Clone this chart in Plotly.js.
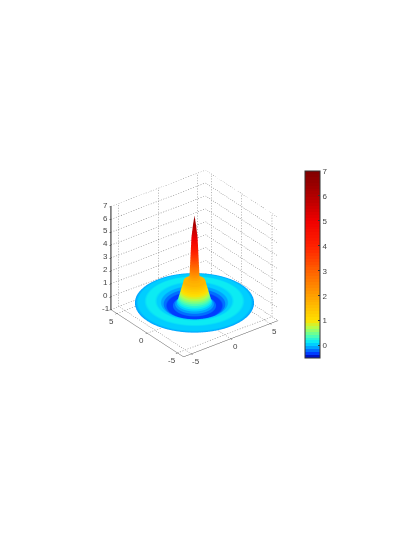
<!DOCTYPE html>
<html>
<head>
<meta charset="utf-8">
<script src="https://cdn.plot.ly/plotly-3.0.1.min.js"></script>
<style>html,body{margin:0;padding:0;background:#fff}#chart{width:415px;height:537px}</style>
</head>
<body>
<div id="chart"></div>
<script>
// radial profile (surface of revolution)
const radii   = [0, 0.15, 0.31, 0.44, 0.51, 0.6, 0.85, 1.1, 1.2, 1.3, 1.4, 1.5, 1.6, 1.7, 1.8, 1.95, 2.2, 2.5, 2.9, 3.3, 3.8, 4.4, 5.0, 5.5, 6.0];
const heights = [6.7, 6.0, 5.0, 3.0, 1.95, 1.75, 1.7, 1.65, 1.35, 1.1, 0.85, 0.6, 0.35, 0.1, -0.05, -0.15, -0.28, -0.33, -0.25, -0.05, 0.08, 0.14, 0.08, 0.0, -0.05];
const angles  = [0,5,10,15,20,25,30,35,40,45,50,55,60,65,70,75,80,85,90,95,100,105,110,115,120,125,130,135,140,145,150,155,160,165,170,175,180,
                 185,190,195,200,205,210,215,220,225,230,235,240,245,250,255,260,265,270,275,280,285,290,295,300,305,310,315,320,325,330,335,340,345,350,355,360];

const ticks_xy = [-5, 0, 5];
const ticks_z  = [-1, 0, 1, 2, 3, 4, 5, 6, 7];
const ticks_cb = [0, 1, 2, 3, 4, 5, 6, 7];
const lim_xy   = 6;

const z_min = -0.5;
const z_max = 7;

// colormap anchors: value on the colorbar, colour there
const cmap_values = [-0.5, -0.35, -0.1, 0.1, 0.4, 0.7, 1.0, 2.0, 3.0, 4.0, 5.0, 6.0, 7.0];
const cmap_colors = [[0,0,159], [0,48,255], [0,160,255], [0,232,255], [80,255,176], [176,255,80], [255,224,0], [255,160,0], [255,96,0], [255,32,0], [240,0,0], [176,0,0], [128,0,0]];
const n_levels = 64;

const font_family = 'Arial, "Liberation Sans", sans-serif';
const tick_font = {family: font_family, size: 8, color: '#444'};


function colorAt(v) {
    let i = 0;
    while (i < cmap_values.length - 2 && v > cmap_values[i + 1]) i++;
    const f = (v - cmap_values[i]) / (cmap_values[i + 1] - cmap_values[i]);
    const c = cmap_colors[i].map((k, j) => Math.round(k + f * (cmap_colors[i + 1][j] - k)));
    return 'rgb(' + c.join(',') + ')';
}

// stepped like a matlab colormap
const colorscale = [];
for (let i = 0; i < n_levels; i++) {
    const col = colorAt(z_min + (i + 0.5) / n_levels * (z_max - z_min));
    colorscale.push([i / n_levels, col]);
    colorscale.push([(i + 1) / n_levels, col]);
}

const xs = [], ys = [], zs = [];
for (const a of angles) {
    const t = a * Math.PI / 180;
    xs.push(radii.map(r => r * Math.cos(t)));
    ys.push(radii.map(r => r * Math.sin(t)));
    zs.push(heights.slice());
}

const surface = {
    type: 'surface',
    x: xs, y: ys, z: zs,
    cmin: z_min, cmax: z_max,
    colorscale: colorscale,
    lighting: {ambient: 1, diffuse: 0, specular: 0, roughness: 1, fresnel: 0},
    hoverinfo: 'skip',
    colorbar: {
        x: 0.7355, xanchor: 'left', xref: 'paper',
        y: 0.5074, yanchor: 'middle',
        lenmode: 'pixels', len: 187,
        thickness: 15,
        outlinecolor: '#333', outlinewidth: 1,
        ticks: 'inside', ticklen: 2, tickcolor: '#333',
        tickvals: ticks_cb,
        tickfont: tick_font,
        xpad: 0, ypad: 0
    }
};

// dotted grid on the two back walls and the floor, gl dashes are too long so break the line by hand
const gx = [], gy = [], gz = [];
function gridLine(a, b) {
    const n = Math.round(Math.hypot(b[0] - a[0], b[1] - a[1], (b[2] - a[2]) * 1.5) / 0.32);
    for (let i = 0; i < n; i++) {
        for (const f of [i / n, (i + 0.4) / n]) {
            gx.push(a[0] + (b[0] - a[0]) * f);
            gy.push(a[1] + (b[1] - a[1]) * f);
            gz.push(a[2] + (b[2] - a[2]) * f);
        }
        gx.push(null);
        gy.push(null);
        gz.push(null);
    }
}
const zb = ticks_z[0];
const zt = ticks_z[ticks_z.length - 1];
for (const z of ticks_z) {
    gridLine([-lim_xy, lim_xy, z], [lim_xy, lim_xy, z]);
    gridLine([lim_xy, lim_xy, z], [lim_xy, -lim_xy, z]);
}
for (const t of ticks_xy) {
    gridLine([t, lim_xy, zb], [t, lim_xy, zt]);
    gridLine([lim_xy, t, zb], [lim_xy, t, zt]);
    gridLine([t, -lim_xy, zb], [t, lim_xy, zb]);
    gridLine([-lim_xy, t, zb], [lim_xy, t, zb]);
}
const grid = {
    type: 'scatter3d',
    mode: 'lines',
    x: gx, y: gy, z: gz,
    connectgaps: false,
    line: {color: '#6e6e6e', width: 1},
    hoverinfo: 'skip',
    showlegend: false
};

function axis(tickvals, range, linecolor, linewidth) {
    return {
        range: range, autorange: false,
        tickvals: tickvals,
        showticklabels: false,
        title: {text: ''},
        showbackground: false,
        showgrid: false,
        zeroline: false,
        showline: true, linecolor: linecolor, linewidth: linewidth,
        ticks: 'outside', ticklen: 2, tickcolor: '#333',
        showspikes: false
    };
}

// tick labels as scene annotations, the gl ones rotate with the axes
function tickLabel(x, y, z, text, xshift, yshift) {
    return {
        x: x, y: y, z: z,
        text: String(text),
        showarrow: false,
        font: tick_font,
        xshift: xshift, yshift: yshift
    };
}
const annotations = [];
for (const t of ticks_xy) {
    annotations.push(tickLabel(t, -lim_xy, zb, t, 5, -8));
    annotations.push(tickLabel(-lim_xy, t, zb, t, -5, -8));
}
for (const z of ticks_z) {
    annotations.push(tickLabel(-lim_xy, lim_xy, z, z, -5, 1));
}

const layout = {
    width: 415, height: 537,
    margin: {l: 0, r: 0, t: 0, b: 0},
    paper_bgcolor: '#fff',
    showlegend: false,
    scene: {
        domain: {x: [0.1944, 0.7408], y: [0.2990, 0.7210]},
        xaxis: axis(ticks_xy, [-lim_xy, lim_xy], '#555', 1),
        yaxis: axis(ticks_xy, [-lim_xy, lim_xy], '#555', 1),
        zaxis: axis(ticks_z, [zb, zt], '#000', 2),
        aspectmode: 'manual',
        aspectratio: {x: 1.05, y: 1.05, z: 1.05},
        annotations: annotations,
        camera: {
            projection: {type: 'orthographic'},
            center: {x: 0, y: 0, z: 0},
            up: {x: 0, y: 0, z: 1},
            eye: {x: -0.833, y: -1.085, z: 0.79}
        }
    }
};

Plotly.newPlot('chart', [surface, grid], layout, {displayModeBar: false});
</script>
</body>
</html>
